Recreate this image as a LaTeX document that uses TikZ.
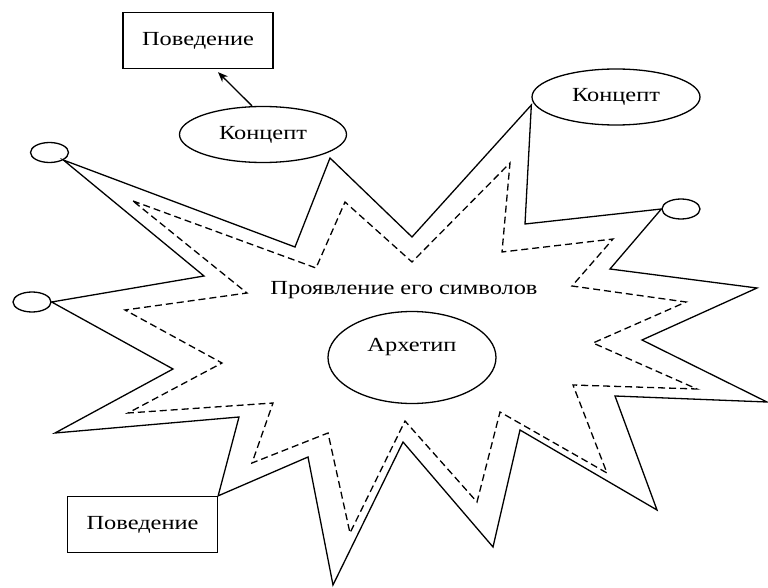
\documentclass[tikz,border=0pt]{standalone}
\usepackage{fontspec}
\setmainfont{Liberation Serif}[FakeStretch=1.22]
\usetikzlibrary{shapes.geometric,arrows.meta}

\begin{document}
\begin{tikzpicture}[x=1pt,y=-1pt,line width=1.3pt,
  font=\fontsize{20}{24}\selectfont,
  box/.style={rectangle,draw,minimum width=150pt,minimum height=56pt},
  oval/.style={ellipse,draw,inner sep=0pt},
  knob/.style={ellipse,draw,inner sep=0pt,minimum width=38pt,minimum height=20pt},
  inner/.style={dash pattern=on 7pt off 4pt}]
\useasboundingbox (0,0) rectangle (768,588);

\path (198,40.5) node[box] (pv1) {Поведение};
\path (142.5,524.5) node[box] (pv2) {Поведение};
\path (263,134.5) node[oval,minimum width=167pt,minimum height=56pt] (kl) {Концепт};
\path (616,97) node[oval,minimum width=168pt,minimum height=56pt] (kr) {Концепт};
\path (412,357.5) node[oval,minimum width=168pt,minimum height=92pt,text depth=26pt] (arch) {Архетип};
\path (404,290) node (sym) {Проявление его символов};

\path (49.5,152.5) node[knob] (ctl) {};
\path (32,302) node[knob] (cl) {};
\path (681,209) node[knob] (cr) {};

\draw[-{Stealth[length=10pt,width=8pt]}] ([xshift=-11pt]kl.north) -- ([xshift=20pt,yshift=-3pt]pv1.south);

\draw (ctl.south east) -- (295,247) -- (330,158) -- (412,237) -- ([yshift=-8pt]kr.west)
  -- (525,224) -- (cr.west) -- (610,269) -- (757,288) -- (642,340) -- (767,402)
  -- (615,396) -- (657,510) -- (520,430) -- (493,547) -- (403,442) -- (333,585)
  -- (308,457) -- (pv2.north east) -- (239,417) -- (55,433) -- (173,369)
  -- (cl.east) -- (204,276) -- cycle;

\draw[inner] (133,201) -- (316,268) -- (345,202) -- (412,262) -- (510,163) -- (502,252)
  -- (613,239) -- (572,286) -- (686,302) -- (593,343) -- (697,389) -- (573,385)
  -- (607,473) -- (500,412) -- (477,502) -- (405,421) -- (350,533) -- (328,433)
  -- (252,463) -- (273,403) -- (128,413) -- (222,363) -- (125,310) -- (247,293) -- cycle;
\end{tikzpicture}
\end{document}
